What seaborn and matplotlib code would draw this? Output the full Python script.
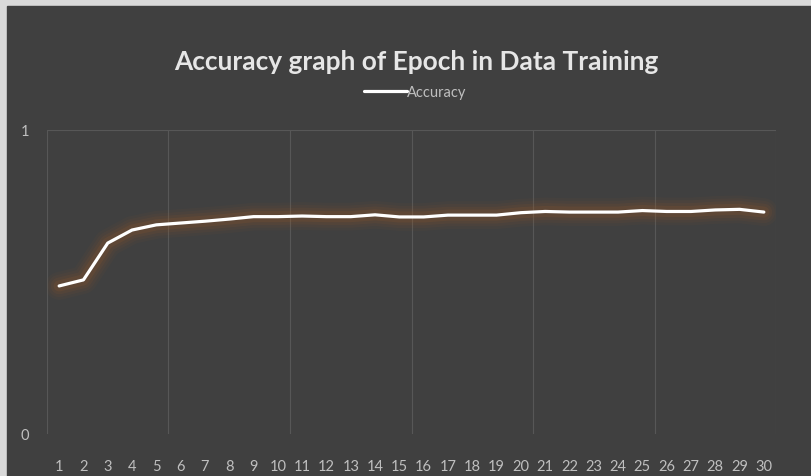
import matplotlib
matplotlib.use("Agg")
import matplotlib.pyplot as plt
import matplotlib.patches as mpatches
import seaborn as sns
import pandas as pd

epochs = list(range(1, 31))
accuracy = [0.487, 0.507, 0.628, 0.671, 0.688, 0.694, 0.700, 0.707, 0.715, 0.715,
            0.717, 0.715, 0.715, 0.721, 0.714, 0.714, 0.720, 0.720, 0.720, 0.728,
            0.732, 0.730, 0.730, 0.730, 0.735, 0.732, 0.732, 0.737, 0.739, 0.730]

df = pd.DataFrame({"Epoch": epochs, "Accuracy": accuracy})

bg = "#404040"
txt = "#bfbfbf"

sns.set_style("dark")
plt.rcParams["font.family"] = ["Lato", "DejaVu Sans"]

fig = plt.figure(figsize=(8.11, 4.77), dpi=100, facecolor="#d9d9d9")
# dark chart area, light screenshot border on left/top
fig.patches.append(mpatches.Rectangle((7 / 811, 0), 1, 1 - 7 / 477, transform=fig.transFigure,
                                      color=bg, zorder=-10))

ax = fig.add_axes([47 / 811, 42 / 477, 729 / 811, 304 / 477])
ax.set_facecolor(bg)

# soft brown glow around the line
for lw, a in [(20, 0.06), (16, 0.08), (12, 0.11), (8, 0.16)]:
    sns.lineplot(data=df, x="Epoch", y="Accuracy", ax=ax, color="#9a5a28",
                 linewidth=lw, alpha=a, legend=False, solid_capstyle="round")
sns.lineplot(data=df, x="Epoch", y="Accuracy", ax=ax, color="white",
             linewidth=2.3, label="Accuracy", solid_capstyle="round")

ax.set_xlim(0.5, 30.5)
ax.set_ylim(0, 1)
ax.set_xticks(epochs)
ax.set_xticklabels([str(e) for e in epochs])
ax.set_yticks([0, 1])
ax.set_yticklabels(["0", "1"])
ax.tick_params(axis="x", colors=txt, labelsize=10.5, length=0, pad=18)
ax.tick_params(axis="y", colors=txt, labelsize=10.5, length=0, pad=13)

ax.grid(False)
for xv in [0.5, 5.5, 10.5, 15.5, 20.5, 25.5, 30.5]:
    ax.axvline(xv, color="#575757", linewidth=0.8, zorder=0)
ax.axhline(1, color="#575757", linewidth=0.8, zorder=0)
for s in ax.spines.values():
    s.set_visible(False)

ax.set_xlabel("")
ax.set_ylabel("")
fig.text(416 / 811, 1 - 62 / 477, "Accuracy graph of Epoch in Data Training",
         ha="center", va="center", color="#e6e6e6", fontsize=18.9, fontweight="bold")
ax.legend(loc="center", bbox_to_anchor=(0.505, 1.125), frameon=False,
          labelcolor=txt, fontsize=10.5, handlelength=3.0, handletextpad=0.0)

fig.savefig("out.png", dpi=100, facecolor=fig.get_facecolor())
